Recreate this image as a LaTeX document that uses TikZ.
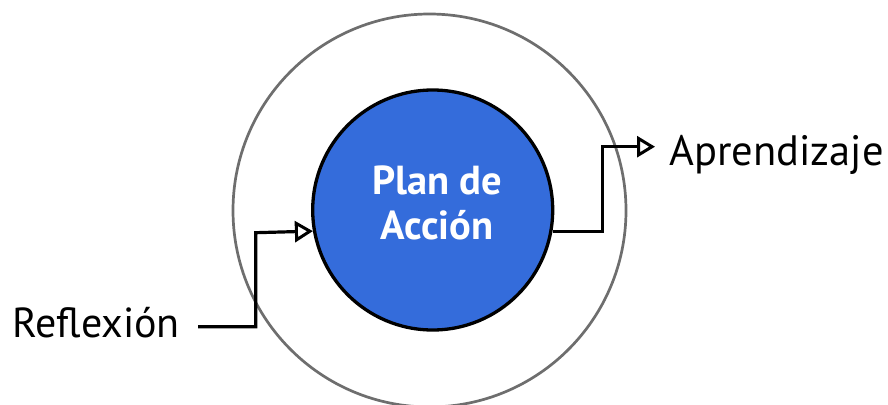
\documentclass[tikz,border=0pt]{standalone}
\usepackage{fontspec}
\setmainfont{PT Sans}
\usetikzlibrary{arrows.meta}
\definecolor{planblue}{HTML}{346CDB}
\definecolor{ringgray}{HTML}{6E6E6E}
\tikzset{
  ring/.style={circle, draw=ringgray, line width=2.7pt, minimum size=393pt, inner sep=0pt},
  core/.style={circle, draw=black, fill=planblue, line width=3.3pt, minimum size=240pt, inner sep=0pt},
  lbl/.style={font=\fontsize{42}{48}\selectfont, inner sep=0pt, anchor=base west},
  conn/.style={draw=black, line width=3.2pt, -{Triangle[open, length=18pt, width=21pt, line width=3pt]}}
}
\begin{document}
\begin{tikzpicture}[x=1pt, y=-1pt]
\useasboundingbox (0,0) rectangle (888,404);
\node[ring] (outer) at (429.5,210.5) {};
\node[core] (plan) at (432.7,210) {};
\node[text=white, font=\fontsize{40.5}{47}\selectfont\bfseries, align=center, inner sep=0pt] (title) at (437,203) {Plan de\\[-2pt]Acción};
\node[lbl] (refl) at (12,337.7) {Reflexión};
\node[lbl] (apr) at (669,165) {\fontsize{42.5}{48}\selectfont Aprendizaje};
\coordinate (r0) at (198,326.7);
\coordinate (r1) at (255.7,232.7);
\coordinate (a1) at (602.7,146.7);
\coordinate (a2) at (655,146.7);
\draw[conn] (r0) -| (r1) -- (plan.190.9);
\draw[conn] (plan.-10.9) -| (a1) -- (a2);
\end{tikzpicture}
\end{document}
